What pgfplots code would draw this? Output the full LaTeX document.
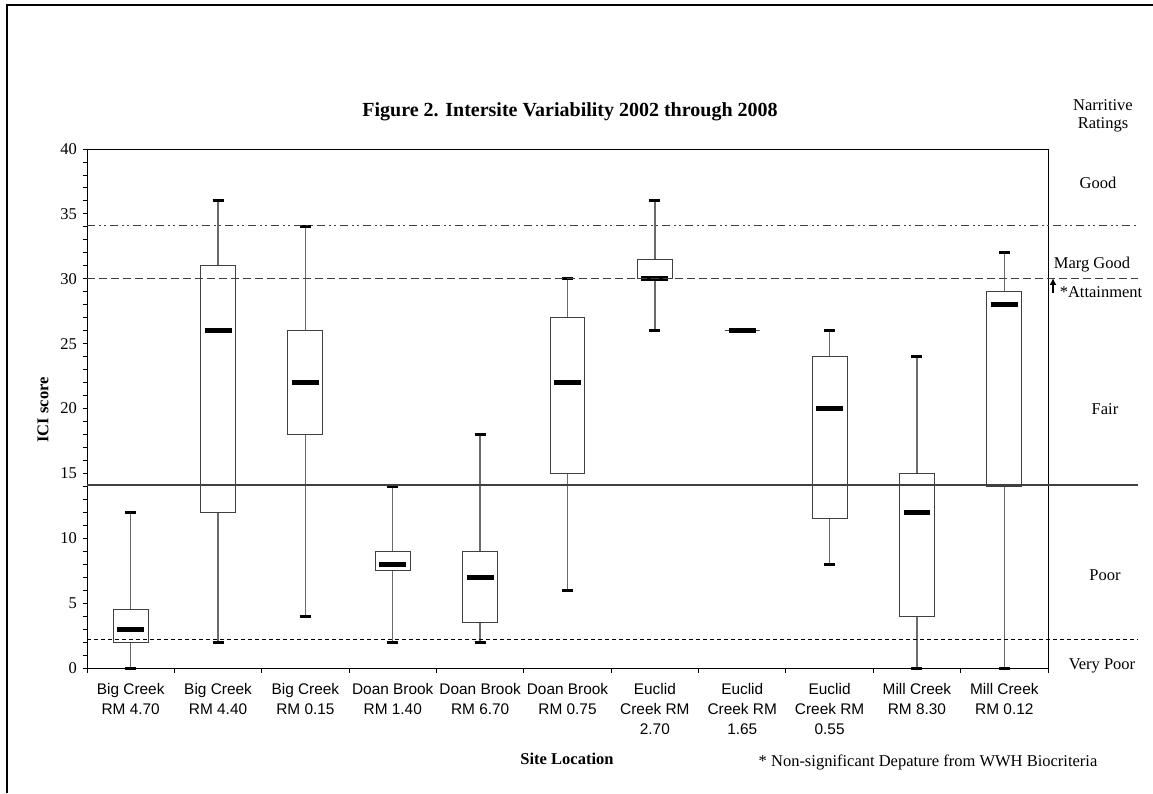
\documentclass[border=0pt]{standalone}
\usepackage{fontspec}
\setmainfont{Liberation Serif}
\newfontfamily\arial{Liberation Sans}
\usepackage{pgfplots}
\pgfplotsset{compat=1.18}
\usepgfplotslibrary{statistics}
\usetikzlibrary{arrows.meta}
\definecolor{refgray}{HTML}{404040}
\definecolor{wgray}{HTML}{6A6A6A}
\begin{document}
\begin{tikzpicture}[x=1pt,y=1pt]
\useasboundingbox (0,0) rectangle (1153,793);
\draw[line width=1.6pt] (7,0) -- (7,788) -- (1153,788);
\begin{axis}[
  at={(87pt,125pt)}, anchor=south west,
  scale only axis, width=961pt, height=519pt,
  xmin=0.5, xmax=11.5, ymin=0, ymax=40,
  clip=false,
  axis line style={black, line width=1pt},
  tick align=outside, tick pos=left,
  major tick length=4.5pt, minor tick length=4.5pt,
  every tick/.style={black, line width=0.9pt},
  ytick={0,5,...,40}, minor y tick num=4,
  xtick={1,...,11},
  major x tick style={draw=none},
  minor xtick={0.5,1.5,...,11.5},
  xticklabels={{Big Creek\\RM 4.70},{Big Creek\\RM 4.40},{Big Creek\\RM 0.15},{Doan Brook\\RM 1.40},{Doan Brook\\RM 6.70},{Doan Brook\\RM 0.75},{Euclid\\Creek RM\\2.70},{Euclid\\Creek RM\\1.65},{Euclid\\Creek RM\\0.55},{Mill Creek\\RM 8.30},{Mill Creek\\RM 0.12}},
  xticklabel style={align=center, font=\arial\fontsize{15.4}{20}\selectfont, yshift=-7pt},
  yticklabel style={font=\fontsize{16.5}{20}\selectfont, xshift=-2pt},
  /pgf/number format/assume math mode=true,
  boxplot/draw direction=y,
  boxplot/box extend=0.4,
  boxplot/whisker extend=0.126,
  boxplot/every box/.style={draw=black!75, line width=1pt, fill=white},
  boxplot/draw/median/.code={%
    \draw[black, line width=5pt] (boxplot box cs:\pgfplotsboxplotvalue{median},0.115) -- (boxplot box cs:\pgfplotsboxplotvalue{median},0.885);},
  boxplot/draw/lower whisker/.code={%
    \draw[wgray, line width=1.3pt] (boxplot box cs:\pgfplotsboxplotvalue{lower quartile},0.5) -- (boxplot box cs:\pgfplotsboxplotvalue{lower whisker},0.5);
    \draw[black, line width=3pt] (boxplot whisker cs:\pgfplotsboxplotvalue{lower whisker},0) -- (boxplot whisker cs:\pgfplotsboxplotvalue{lower whisker},1);},
  boxplot/draw/upper whisker/.code={%
    \draw[wgray, line width=1.3pt] (boxplot box cs:\pgfplotsboxplotvalue{upper quartile},0.5) -- (boxplot box cs:\pgfplotsboxplotvalue{upper whisker},0.5);
    \draw[black, line width=3pt] (boxplot whisker cs:\pgfplotsboxplotvalue{upper whisker},0) -- (boxplot whisker cs:\pgfplotsboxplotvalue{upper whisker},1);},
]
\addplot[boxplot prepared={draw position=1, lower whisker=0, lower quartile=2, median=3, upper quartile=4.5, upper whisker=12}] coordinates {};
\addplot[boxplot prepared={draw position=2, lower whisker=2, lower quartile=12, median=26, upper quartile=31, upper whisker=36}] coordinates {};
\addplot[boxplot prepared={draw position=3, lower whisker=4, lower quartile=18, median=22, upper quartile=26, upper whisker=34}] coordinates {};
\addplot[boxplot prepared={draw position=4, lower whisker=2, lower quartile=7.5, median=8, upper quartile=9, upper whisker=14}] coordinates {};
\addplot[boxplot prepared={draw position=5, lower whisker=2, lower quartile=3.5, median=7, upper quartile=9, upper whisker=18}] coordinates {};
\addplot[boxplot prepared={draw position=6, lower whisker=6, lower quartile=15, median=22, upper quartile=27, upper whisker=30}] coordinates {};
\addplot[boxplot prepared={draw position=7, lower whisker=26, lower quartile=30, median=30, upper quartile=31.5, upper whisker=36}] coordinates {};
\addplot[boxplot prepared={draw position=8, lower whisker=26, lower quartile=26, median=26, upper quartile=26, upper whisker=26}] coordinates {};
\addplot[boxplot prepared={draw position=9, lower whisker=8, lower quartile=11.5, median=20, upper quartile=24, upper whisker=26}] coordinates {};
\addplot[boxplot prepared={draw position=10, lower whisker=0, lower quartile=4, median=12, upper quartile=15, upper whisker=24}] coordinates {};
\addplot[boxplot prepared={draw position=11, lower whisker=0, lower quartile=14, median=28, upper quartile=29, upper whisker=32}] coordinates {};
% reference lines
\addplot[refgray, line width=1.3pt, dash pattern=on 8pt off 4pt on 2pt off 3pt on 2pt off 4pt] coordinates {(0.5,34.1) (12.53,34.1)};
\addplot[refgray, line width=1.3pt, dash pattern=on 8pt off 4pt] coordinates {(0.5,30) (12.53,30)};
\addplot[refgray, line width=1.3pt] coordinates {(0.5,14.1) (12.53,14.1)};
\addplot[black, line width=1.2pt, dash pattern=on 4pt off 3pt] coordinates {(0.5,2.2) (12.53,2.2)};
\end{axis}
\draw[-{Latex[length=7pt,width=7pt]}, line width=1.5pt] (1053,500) -- (1053,515);
\node[font=\bfseries\fontsize{20}{24}\selectfont] at (570,681) {Figure 2. Intersite Variability 2002 through 2008};
\begin{scope}[every node/.style={font=\fontsize{16.5}{20}\selectfont, inner sep=0pt}]
\node at (1103,688) {Narritive};
\node at (1103,668) {Ratings};
\node at (1098,610) {Good};
\node at (1092,528) {Marg Good};
\node at (1101,501) {*Attainment};
\node at (1105,384) {Fair};
\node at (1105,218) {Poor};
\node at (1102,127) {Very Poor};
\node[font=\bfseries\fontsize{16.5}{20}\selectfont, rotate=90] at (43,383) {ICI score};
\node[font=\bfseries\fontsize{16.5}{20}\selectfont] at (567,34) {Site Location};
\node at (928,31) {* Non-significant Depature from WWH Biocriteria};
\end{scope}
\end{tikzpicture}
\end{document}
